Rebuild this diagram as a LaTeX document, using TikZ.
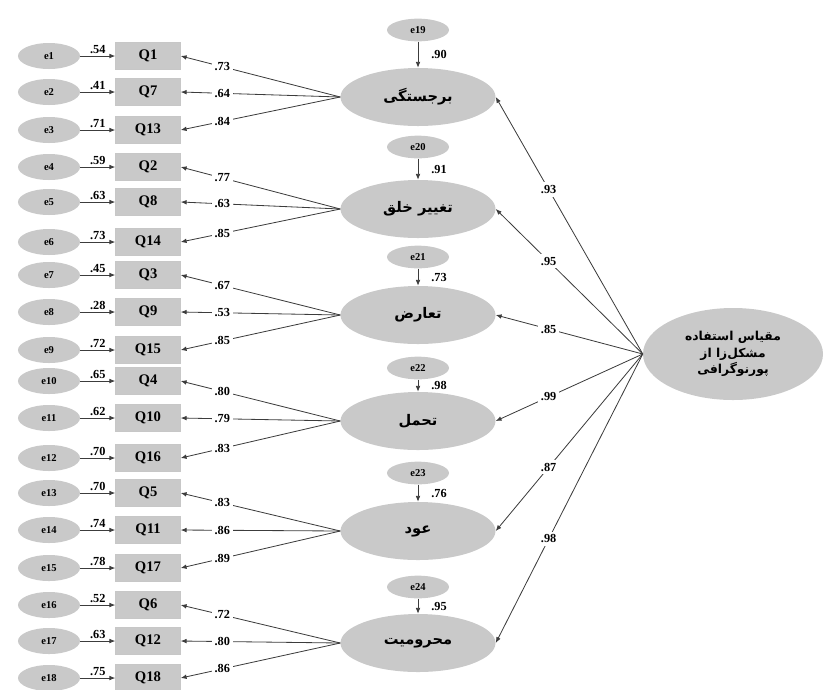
\documentclass[tikz,border=0pt]{standalone}
\usepackage{fontspec}
\setmainfont{Liberation Serif}
\newfontfamily\arabicfont[Script=Arabic]{DejaVu Sans}
\TeXXeTstate=1
\usetikzlibrary{arrows.meta,shapes.geometric}
\definecolor{nodegray}{RGB}{201,201,201}
\definecolor{linegray}{RGB}{60,60,60}
\begin{document}
\begin{tikzpicture}[x=0.03cm,y=-0.03cm,
  errnode/.style={ellipse,fill=nodegray,minimum width=1.86cm,minimum height=0.78cm,inner sep=0pt,font=\bfseries\fontsize{9}{10}\selectfont},
  qbox/.style={rectangle,fill=nodegray,draw=black!22,minimum width=1.95cm,minimum height=0.8cm,inner sep=0pt,font=\bfseries\fontsize{12.5}{13}\selectfont},
  factor/.style={ellipse,fill=nodegray,minimum width=4.65cm,minimum height=1.74cm,inner sep=0pt,font=\arabicfont\bfseries\fontsize{12.5}{14}\selectfont},
  ferr/.style={ellipse,fill=nodegray,minimum width=1.86cm,minimum height=0.68cm,inner sep=0pt,font=\bfseries\fontsize{9}{10}\selectfont},
  bigfactor/.style={ellipse,fill=nodegray,minimum width=5.4cm,minimum height=2.76cm,inner sep=0pt,align=center,font=\arabicfont\bfseries\fontsize{10.5}{14}\selectfont},
  arr/.style={-{Latex[length=5pt,width=4pt]},line width=0.7pt,draw=linegray},
  lbl/.style={font=\bfseries\fontsize{10.5}{11}\selectfont,fill=white,inner sep=2.5pt},
  toplbl/.style={font=\bfseries\fontsize{10.5}{11}\selectfont,inner sep=2pt,above},
]
\useasboundingbox (0,0) rectangle (824,689);

% indicators
\foreach \i/\q/\y/\l in {1/Q1/56/.54,2/Q7/92/.41,3/Q13/130/.71,4/Q2/167/.59,5/Q8/202/.63,6/Q14/242/.73,7/Q3/275/.45,8/Q9/312/.28,9/Q15/350/.72,10/Q4/381/.65,11/Q10/418/.62,12/Q16/458/.70,13/Q5/493/.70,14/Q11/530/.74,15/Q17/568/.78,16/Q6/605/.52,17/Q12/641/.63,18/Q18/678/.75}{
  \node[errnode] (e\i) at (49,\y) {e\i};
  \node[qbox] (q\i) at (148,\y) {\q};
  \draw[arr] (e\i) -- node[toplbl]{\l} (q\i);
}

% factors
\node[factor] (f1) at (418,97) {\beginR برجستگی\endR};
\node[factor] (f2) at (418,209) {\beginR تغییر خلق\endR};
\node[factor] (f3) at (418,315) {\beginR تعارض\endR};
\node[factor] (f4) at (418,421) {\beginR تحمل\endR};
\node[factor] (f5) at (418,531) {\beginR عود\endR};
\node[factor] (f6) at (418,643) {\beginR محرومیت\endR};

% factor residuals
\foreach \k/\fidx/\y/\l in {19/1/30/.90,20/2/147/.91,21/3/257/.73,22/4/368/.98,23/5/473/.76,24/6/587/.95}{
  \node[ferr] (e\k) at (418,\y) {e\k};
  \draw[arr] (e\k) -- node[right=11pt,font=\bfseries\fontsize{10.5}{11}\selectfont,inner sep=0pt]{\l} (f\fidx);
}

% loadings
\foreach \f/\a/\b/\c/\la/\lb/\lc in {1/1/2/3/.73/.64/.84,2/4/5/6/.77/.63/.85,3/7/8/9/.67/.53/.85,4/10/11/12/.80/.79/.83,5/13/14/15/.83/.86/.89,6/16/17/18/.72/.80/.86}{
  \draw[arr] (f\f.west) -- node[lbl,pos=0.74]{\la} (q\a.east);
  \draw[arr] (f\f.west) -- node[lbl,pos=0.74]{\lb} (q\b.east);
  \draw[arr] (f\f.west) -- node[lbl,pos=0.74]{\lc} (q\c.east);
}

% second-order factor
\node[bigfactor] (g) at (733,354) {\beginR مقیاس استفاده\endR\\\beginR مشکل‌زا از\endR\\\beginR پورنوگرافی\endR};
\foreach \f/\l in {1/.93,2/.95,3/.85,4/.99,5/.87,6/.98}{
  \draw[arr] (g.west) -- node[lbl,pos=0.64]{\l} (f\f.east);
}
\end{tikzpicture}
\end{document}
